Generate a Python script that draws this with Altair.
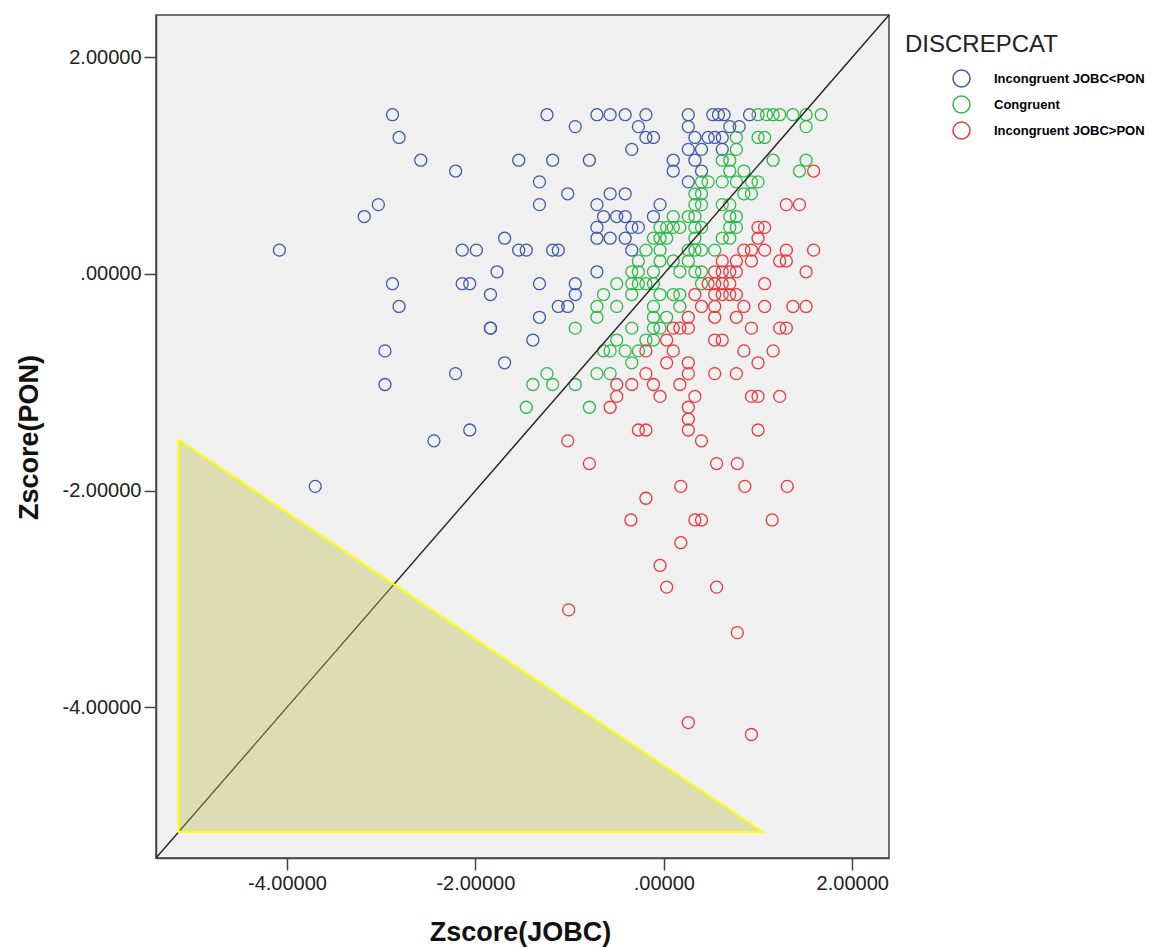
import altair as alt
import pandas as pd

categories = ["Incongruent JOBC<PON", "Congruent", "Incongruent JOBC>PON"]
colors = ["#3e58ac", "#2eb848", "#e8383d"]

# (Zscore(JOBC), Zscore(PON)) pairs
jobc_lt_pon = [
    (-2.88, 1.47), (-1.24, 1.47), (-2.81, 1.26), (-2.58, 1.05), (-2.21, 0.95),
    (-1.54, 1.05), (-1.18, 1.05), (-1.32, 0.85), (-1.32, 0.64), (-3.03, 0.64),
    (-3.18, 0.53), (-4.08, 0.22), (-1.69, 0.33), (-2.14, 0.22), (-1.99, 0.22),
    (-1.54, 0.22), (-1.46, 0.22), (-1.18, 0.22), (-1.12, 0.22), (-2.88, -0.09),
    (-2.81, -0.30), (-2.14, -0.09), (-2.06, -0.09), (-1.77, 0.02), (-1.84, -0.19),
    (-1.32, -0.09), (-1.12, -0.30), (-1.32, -0.40), (-1.84, -0.50), (-1.84, -0.50),
    (-1.39, -0.61), (-2.96, -0.71), (-1.69, -0.82), (-2.21, -0.92), (-2.96, -1.02),
    (-2.06, -1.44), (-2.44, -1.54), (-3.70, -1.96),
    (-0.71, 1.47), (-0.57, 1.47), (-0.41, 1.47), (-0.19, 1.47), (0.26, 1.47),
    (0.52, 1.47), (0.58, 1.47), (0.64, 1.47), (0.91, 1.47),
    (-0.94, 1.36), (-0.27, 1.36), (0.26, 1.36), (0.70, 1.36), (0.80, 1.36),
    (-0.19, 1.26), (-0.11, 1.26), (0.33, 1.26), (0.47, 1.26), (0.54, 1.26), (0.62, 1.26),
    (-0.34, 1.15), (0.26, 1.15), (0.40, 1.15), (0.62, 1.15),
    (-0.79, 1.05), (0.10, 1.05), (0.33, 1.05),
    (0.10, 0.95), (0.40, 0.95), (0.26, 0.85),
    (-1.02, 0.74), (-0.57, 0.74), (-0.41, 0.74),
    (-0.71, 0.64), (-0.04, 0.64),
    (-0.64, 0.53), (-0.50, 0.53), (-0.41, 0.53), (-0.11, 0.53),
    (-0.71, 0.43), (-0.34, 0.43), (-0.27, 0.43),
    (-0.71, 0.33), (-0.57, 0.33), (-0.41, 0.33),
    (-0.34, 0.22), (-0.71, 0.02), (-0.94, -0.09), (-0.94, -0.19), (-1.02, -0.30),
]

congruent = [
    (-1.24, -0.92), (-1.39, -1.02), (-1.18, -1.02), (-1.46, -1.23),
    (1.00, 1.47), (1.09, 1.47), (1.16, 1.47), (1.23, 1.47), (1.37, 1.47), (1.51, 1.47), (1.67, 1.47),
    (1.51, 1.36),
    (0.77, 1.26), (1.00, 1.26), (1.07, 1.26),
    (0.77, 1.15),
    (0.62, 1.05), (0.70, 1.05), (1.16, 1.05), (1.51, 1.05),
    (0.70, 0.95), (0.85, 0.95), (1.44, 0.95),
    (0.40, 0.85), (0.47, 0.85), (0.62, 0.85), (0.77, 0.85), (0.93, 0.85), (1.00, 0.85),
    (0.33, 0.74), (0.40, 0.74), (0.85, 0.74), (0.93, 0.74),
    (0.33, 0.64), (0.40, 0.64), (0.62, 0.64), (0.70, 0.64),
    (0.10, 0.53), (0.26, 0.53), (0.33, 0.53), (0.70, 0.53), (0.77, 0.53),
    (-0.04, 0.43), (0.03, 0.43), (0.10, 0.43), (0.17, 0.43), (0.33, 0.43), (0.40, 0.43), (0.70, 0.43), (0.77, 0.43),
    (-0.11, 0.33), (-0.04, 0.33), (0.03, 0.33), (0.33, 0.33), (0.62, 0.33), (0.70, 0.33),
    (-0.19, 0.22), (-0.04, 0.22), (0.26, 0.22), (0.33, 0.22), (0.40, 0.22), (0.54, 0.22),
    (-0.27, 0.12), (-0.04, 0.12), (0.10, 0.12), (0.26, 0.12),
    (-0.34, 0.02), (-0.27, 0.02), (-0.11, 0.02), (0.17, 0.02), (0.33, 0.02), (0.40, 0.02),
    (-0.50, -0.09), (-0.34, -0.09), (-0.27, -0.09), (-0.19, -0.09), (-0.11, -0.09), (0.40, -0.09),
    (-0.64, -0.19), (-0.34, -0.19), (-0.04, -0.19), (0.10, -0.19), (0.17, -0.19),
    (-0.71, -0.30), (-0.50, -0.30), (-0.11, -0.30), (0.17, -0.30),
    (-0.71, -0.40), (-0.11, -0.40), (0.03, -0.40),
    (-0.94, -0.50), (-0.34, -0.50), (-0.11, -0.50), (-0.04, -0.50),
    (-0.50, -0.61), (-0.19, -0.61), (-0.11, -0.61),
    (-0.64, -0.71), (-0.57, -0.71), (-0.41, -0.71), (-0.27, -0.71),
    (-0.34, -0.82), (-0.71, -0.92), (-0.57, -0.92), (-0.94, -1.02), (-0.79, -1.23),
]

jobc_gt_pon = [
    (1.59, 0.95), (1.30, 0.64), (1.44, 0.64), (1.00, 0.43), (1.07, 0.43), (1.00, 0.33),
    (0.85, 0.22), (0.93, 0.22), (1.07, 0.22), (1.30, 0.22), (1.59, 0.22),
    (0.62, 0.12), (0.77, 0.12), (0.93, 0.12), (1.23, 0.12), (1.30, 0.12),
    (0.54, 0.02), (0.62, 0.02), (0.70, 0.02), (0.77, 0.02), (1.51, 0.02),
    (0.47, -0.09), (0.54, -0.09), (0.62, -0.09), (0.70, -0.09), (1.07, -0.09),
    (0.33, -0.19), (0.54, -0.19), (0.62, -0.19), (0.70, -0.19), (0.77, -0.19),
    (0.40, -0.30), (0.54, -0.30), (0.85, -0.30), (1.07, -0.30), (1.37, -0.30), (1.51, -0.30),
    (0.26, -0.40), (0.54, -0.40), (0.77, -0.40),
    (0.10, -0.50), (0.17, -0.50), (0.26, -0.50), (0.93, -0.50), (1.23, -0.50), (1.30, -0.50),
    (0.03, -0.61), (0.54, -0.61), (0.62, -0.61),
    (-0.19, -0.71), (0.10, -0.71), (0.85, -0.71), (1.16, -0.71),
    (0.03, -0.82), (0.26, -0.82), (1.00, -0.82),
    (-0.19, -0.92), (0.26, -0.92), (0.54, -0.92), (0.77, -0.92),
    (-0.50, -1.02), (-0.34, -1.02), (-0.11, -1.02), (0.17, -1.02),
    (-0.50, -1.13), (-0.04, -1.13), (0.33, -1.13), (0.93, -1.13), (1.00, -1.13), (1.23, -1.13),
    (-0.57, -1.23), (0.26, -1.23), (0.26, -1.34),
    (-0.27, -1.44), (-0.19, -1.44), (0.26, -1.44), (1.00, -1.44),
    (-1.02, -1.54), (0.40, -1.54),
    (-0.79, -1.75), (0.56, -1.75), (0.78, -1.75),
    (0.18, -1.96), (0.86, -1.96), (1.31, -1.96), (-0.19, -2.07),
    (-0.35, -2.27), (0.33, -2.27), (0.40, -2.27), (1.15, -2.27),
    (0.18, -2.48), (-0.04, -2.69), (0.03, -2.89), (0.56, -2.89),
    (-1.01, -3.10), (0.78, -3.31), (0.26, -4.14), (0.93, -4.25),
]

axis_domain = [-5.39, 2.39]
tick_values = [-4, -2, 0, 2]
diagonal_x = [-5.39, 2.39]
diagonal_y = [-5.39, 2.39]
triangle_x = [-5.15, 1.05]
triangle_top = [-1.53, -5.15]
triangle_bottom = [-5.15, -5.15]

rows = []
for cat, pts in zip(categories, [jobc_lt_pon, congruent, jobc_gt_pon]):
    for jx, py in pts:
        rows.append({"JOBC": jx, "PON": py, "DISCREPCAT": cat})
df = pd.DataFrame(rows)

diag_df = pd.DataFrame({"JOBC": [diagonal_x[0]], "PON": [diagonal_y[0]],
                        "JOBC2": [diagonal_x[1]], "PON2": [diagonal_y[1]]})
tri_df = pd.DataFrame({"JOBC": triangle_x, "PON": triangle_top, "PON2": triangle_bottom})

FONT = "Liberation Sans"
label_expr = ("datum.value == 0 ? '.00000' : (datum.value < 0 ? '-' : '') + "
              "format(abs(datum.value), '.5f')")

xs = alt.Scale(domain=axis_domain, nice=False, zero=False)
ys = alt.Scale(domain=axis_domain, nice=False, zero=False)

x_axis = alt.Axis(values=tick_values, labelExpr=label_expr, title="Zscore(JOBC)",
                  labelPadding=3, titleX=364, titleY=88, titleBaseline="bottom",
                  titleAnchor="middle", titleAlign="center")
y_axis = alt.Axis(values=tick_values, labelExpr=label_expr, title="Zscore(PON)",
                  labelPadding=3, titleX=-113, titleY=422, titleAngle=-90,
                  titleBaseline="bottom", titleAlign="center")

points = alt.Chart(df).mark_point(
    shape="circle", filled=False, size=144, strokeWidth=1.3, opacity=1
).encode(
    x=alt.X("JOBC:Q", scale=xs, axis=x_axis),
    y=alt.Y("PON:Q", scale=ys, axis=y_axis),
    color=alt.Color("DISCREPCAT:N",
                    scale=alt.Scale(domain=categories, range=colors),
                    legend=alt.Legend(
                        title=None, orient="none", legendX=796, legendY=54,
                        symbolType="circle", symbolSize=289, symbolStrokeWidth=1.5,
                        labelFont=FONT, labelFontSize=13, labelFontWeight="bold",
                        labelColor="#000000", labelOffset=23, rowPadding=3,
                        padding=0)),
)

diag = alt.Chart(diag_df).mark_rule(color="#222222", strokeWidth=1.4).encode(
    x=alt.X("JOBC:Q", scale=xs, axis=x_axis),
    y=alt.Y("PON:Q", scale=ys, axis=y_axis),
    x2="JOBC2:Q", y2="PON2:Q",
)

tri = alt.Chart(tri_df).mark_area(
    fill="#c0c05a", fillOpacity=0.4, stroke="#ffff00", strokeWidth=2, strokeOpacity=1,
    interpolate="linear"
).encode(
    x=alt.X("JOBC:Q", scale=xs, axis=x_axis),
    y=alt.Y("PON:Q", scale=ys, axis=y_axis),
    y2="PON2:Q",
)

title_df = pd.DataFrame({"t": ["DISCREPCAT"]})
legend_title = alt.Chart(title_df).mark_text(
    align="left", baseline="alphabetic", font=FONT, fontSize=24, color="#222222"
).encode(x=alt.value(749), y=alt.value(37), text="t:N")

chart = alt.layer(points, diag, tri, legend_title).properties(
    width=733, height=843,
    autosize=alt.AutoSizeParams(type="none"),
    padding={"left": 156, "top": 15, "right": 263, "bottom": 89},
).configure_view(
    fill="#f0f0f0", stroke="#444444", strokeWidth=1.5
).configure_axis(
    grid=False, domainColor="#444444", domainWidth=1.5,
    tickColor="#444444", tickWidth=1.5, tickSize=12,
    labelFont=FONT, labelFontSize=20, labelColor="#222222",
    titleFont=FONT, titleFontSize=27, titleFontWeight="bold", titleColor="#111111",
)

chart.save("out.html", embed_options={"renderer": "svg", "actions": False})
